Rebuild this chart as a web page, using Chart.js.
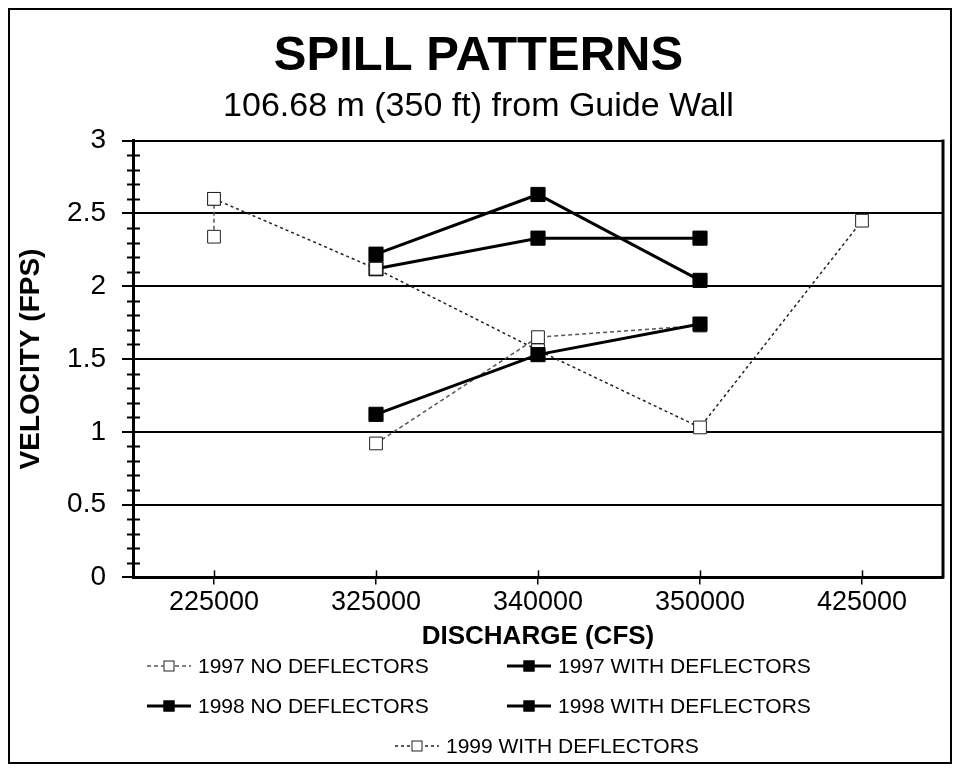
<!DOCTYPE html>
<html>
<head>
<meta charset="utf-8">
<title>Spill Patterns</title>
<script src="https://cdn.jsdelivr.net/npm/chart.js@4.4.1/dist/chart.umd.min.js"></script>
<style>
  html, body { margin: 0; padding: 0; background: #fff; }
  #wrap { position: relative; width: 958px; height: 768px; }
  #wrap canvas { position: absolute; left: 0; top: 0; }
  #frame { position: absolute; left: 8px; top: 8px; width: 940px; height: 752px; border: 2px solid #000; pointer-events: none; }
</style>
</head>
<body>
<div id="wrap">
  <canvas id="chart" width="958" height="768"></canvas>
  <div id="frame"></div>
</div>
<script>
// Discharge categories (CFS)
const discharge = ['225000', '325000', '340000', '350000', '425000'];

// Velocity (FPS) per discharge, null = no measurement
const withDefl1997 = [null, 2.22, 2.63, 2.04, null];
const noDefl1998 = [null, 1.12, 1.53, 1.74, null];
const withDefl1998 = [null, 2.12, 2.33, 2.33, null];
const withDefl1999 = [2.60, 2.12, 1.56, 1.03, 2.45];

// 1997 no deflectors: two readings at 225000, then a separate run
const noDefl1997Q = ['225000', '225000', '325000', '325000', '340000', '350000'];
const noDefl1997V = [2.34, 2.60, null, 0.92, 1.65, 1.73];

const FONT = "'Liberation Sans', Arial, sans-serif";

// Axis minor ticks, right border and x tick marks
const axisExtras = {
    id: 'axisExtras',
    afterDraw(chart) {
        const ctx = chart.ctx;
        const area = chart.chartArea;
        const x = chart.scales.x;
        const y = chart.scales.y;
        ctx.save();
        ctx.strokeStyle = '#000';

        // right side of plot box
        ctx.lineWidth = 3;
        ctx.beginPath();
        ctx.moveTo(area.right, area.top - 1);
        ctx.lineTo(area.right, area.bottom + 1);
        ctx.stroke();

        // minor ticks on the y axis every 0.1
        ctx.lineWidth = 2;
        for (let i = 1; i < 30; i++) {
            if (i % 5 === 0) continue;
            const py = Math.round(y.getPixelForValue(i / 10)) + 0.5;
            ctx.beginPath();
            ctx.moveTo(area.left - 6, py);
            ctx.lineTo(area.left + 7, py);
            ctx.stroke();
        }

        // x ticks poke above the axis too
        ctx.lineWidth = 1.5;
        x.ticks.forEach(function(t, i) {
            const px = Math.round(x.getPixelForTick(i)) + 0.5;
            ctx.beginPath();
            ctx.moveTo(px, area.bottom - 7);
            ctx.lineTo(px, area.bottom);
            ctx.stroke();
        });
        ctx.restore();
    }
};

// Legend laid out like the original: two columns, last entry on its own row
const legendSlots = [
    { x: 147, y: 666 },
    { x: 507, y: 666 },
    { x: 147, y: 706 },
    { x: 507, y: 706 },
    { x: 395, y: 746 }
];

const spillLegend = {
    id: 'spillLegend',
    afterDraw(chart) {
        const ctx = chart.ctx;
        ctx.save();
        chart.data.datasets.forEach(function(ds, i) {
            const slot = legendSlots[i];
            const len = 44;
            ctx.strokeStyle = ds.borderColor;
            ctx.lineWidth = ds.borderWidth;
            ctx.setLineDash(ds.borderDash || []);
            ctx.beginPath();
            ctx.moveTo(slot.x, slot.y);
            ctx.lineTo(slot.x + len, slot.y);
            ctx.stroke();
            ctx.setLineDash([]);

            const cx = slot.x + len / 2;
            const s = 11;
            ctx.fillStyle = ds.pointBackgroundColor;
            ctx.fillRect(cx - s / 2, slot.y - s / 2, s, s);
            ctx.lineWidth = 1;
            ctx.strokeStyle = ds.pointBorderColor;
            ctx.strokeRect(cx - s / 2 + 0.5, slot.y - s / 2 + 0.5, s - 1, s - 1);

            ctx.fillStyle = '#000';
            ctx.font = '21px ' + FONT;
            ctx.textAlign = 'left';
            ctx.textBaseline = 'middle';
            ctx.fillText(ds.label, slot.x + len + 7, slot.y + 1);
        });
        ctx.restore();
    }
};

function filledSeries(label, values, order) {
    return {
        label: label,
        data: values,
        borderColor: '#000',
        borderWidth: 3,
        pointStyle: 'rect',
        pointRadius: 10,
        pointBackgroundColor: '#000',
        pointBorderColor: '#000',
        pointBorderWidth: 1,
        tension: 0,
        order: order
    };
}

function openSeries(label, data, color, dash, order) {
    return {
        label: label,
        data: data,
        borderColor: color,
        borderWidth: 1.5,
        borderDash: dash,
        pointStyle: 'rect',
        pointRadius: 9,
        pointBackgroundColor: '#fff',
        pointBorderColor: '#222',
        pointBorderWidth: 1,
        tension: 0,
        order: order
    };
}

const ctx = document.getElementById('chart').getContext('2d');

new Chart(ctx, {
    type: 'line',
    data: {
        labels: discharge,
        datasets: [
            openSeries('1997 NO DEFLECTORS',
                noDefl1997Q.map(function(q, i) { return { x: q, y: noDefl1997V[i] }; }),
                '#555', [4, 3], 5),
            filledSeries('1997 WITH DEFLECTORS', withDefl1997, 3),
            filledSeries('1998 NO DEFLECTORS', noDefl1998, 1),
            filledSeries('1998 WITH DEFLECTORS', withDefl1998, 4),
            openSeries('1999 WITH DEFLECTORS', withDefl1999, '#222', [3, 3], 2)
        ]
    },
    options: {
        responsive: false,
        animation: false,
        layout: {
            padding: { left: 14, right: 15, top: 15, bottom: 116 }
        },
        plugins: {
            legend: { display: false },
            tooltip: { enabled: false },
            title: {
                display: true,
                text: 'SPILL PATTERNS',
                color: '#000',
                font: { family: FONT, size: 49, weight: 'bold' },
                padding: { top: 12, bottom: 0 }
            },
            subtitle: {
                display: true,
                text: '106.68 m (350 ft) from Guide Wall',
                color: '#000',
                font: { family: FONT, size: 34 },
                padding: { top: 0, bottom: 14 }
            }
        },
        scales: {
            x: {
                offset: true,
                grid: {
                    drawOnChartArea: false,
                    color: '#000',
                    lineWidth: 1.5,
                    tickLength: 7
                },
                border: { color: '#000', width: 3 },
                ticks: {
                    color: '#000',
                    font: { family: FONT, size: 27 },
                    padding: 2,
                    maxRotation: 0
                },
                title: {
                    display: true,
                    text: 'DISCHARGE (CFS)',
                    color: '#000',
                    font: { family: FONT, size: 26, weight: 'bold' },
                    padding: { top: 0, bottom: 0 }
                }
            },
            y: {
                min: 0,
                max: 3,
                ticks: {
                    stepSize: 0.5,
                    color: '#000',
                    font: { family: FONT, size: 28 },
                    padding: 16,
                    callback: function(v) {
                        return String(Math.round(v * 10) / 10);
                    }
                },
                grid: {
                    color: '#000',
                    lineWidth: 2,
                    tickLength: 11
                },
                border: { color: '#000', width: 3 },
                title: {
                    display: true,
                    text: 'VELOCITY (FPS)',
                    color: '#000',
                    font: { family: FONT, size: 28, weight: 'bold' },
                    padding: { top: 0, bottom: 0 }
                },
                afterFit: function(scale) {
                    scale.width = 119;
                }
            }
        }
    },
    plugins: [axisExtras, spillLegend]
});
</script>
</body>
</html>
